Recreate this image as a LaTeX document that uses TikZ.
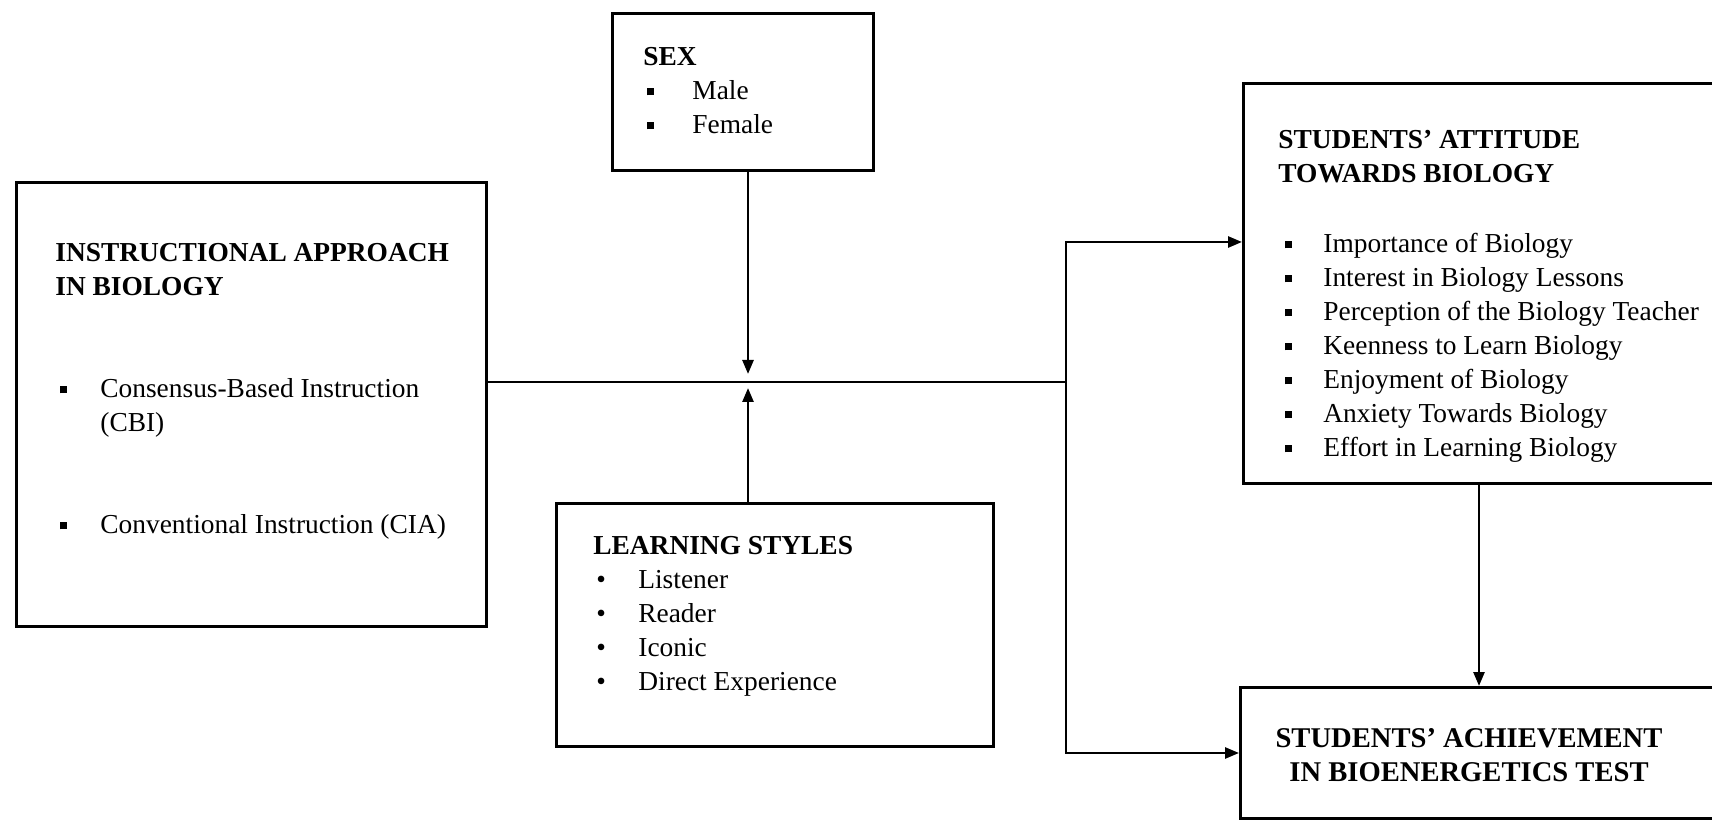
\documentclass[tikz,border=0pt]{standalone}
\usepackage{fontspec}
\setmainfont{Liberation Serif}
\usetikzlibrary{arrows.meta,positioning}
\newcommand{\sqbullet}{\rule[0.3ex]{3.2pt}{3.6pt}}

\tikzset{
  box/.style={draw, line width=1.4pt, anchor=north west, inner sep=0pt},
  txt/.style={anchor=north west, inner sep=0pt, font=\fontsize{13.7}{17}\selectfont},
  link/.style={line width=1.3pt},
  arr/.style={link, -{Triangle[length=7pt,width=5.5pt]}}
}

\begin{document}
\begin{tikzpicture}[x=0.5pt,y=-0.5pt]
\useasboundingbox (0,0) rectangle (1712,822);

% boxes
\node[box, minimum width=235pt, minimum height=222pt] (inst) at (15,181) {};
\node[box, minimum width=130.5pt, minimum height=78.5pt] (sex) at (611,12) {};
\node[box, minimum width=218.5pt, minimum height=121.5pt] (learn) at (555,502) {};
\node[box, minimum width=260pt, minimum height=200pt] (att) at (1242,82) {};
\node[box, minimum width=262pt, minimum height=65.5pt] (ach) at (1239,686) {};

% texts
\node[txt] (insttxt) at (55,237) {\begin{tabular}{@{\hspace{2.5pt}}p{20pt}@{}l@{}}
  \multicolumn{2}{@{}l@{}}{\bfseries INSTRUCTIONAL APPROACH}\\
  \multicolumn{2}{@{}l@{}}{\bfseries IN BIOLOGY}\\[34pt]
  \sqbullet & Consensus-Based Instruction\\
            & (CBI)\\[34pt]
  \sqbullet & Conventional Instruction (CIA)
\end{tabular}};
\node[txt] (sextxt) at (643,41) {\begin{tabular}{@{\hspace{2pt}}p{22.5pt}@{}l@{}}
  \multicolumn{2}{@{}l@{}}{\bfseries SEX}\\
  \sqbullet & Male\\
  \sqbullet & Female
\end{tabular}};
\node[txt] (learntxt) at (593,530) {\begin{tabular}{@{\hspace{1.5pt}}p{21pt}@{}l@{}}
  \multicolumn{2}{@{}l@{}}{\bfseries LEARNING STYLES}\\
  \textbullet & Listener\\
  \textbullet & Reader\\
  \textbullet & Iconic\\
  \textbullet & Direct Experience
\end{tabular}};
\node[txt] (atttxt) at (1278,124) {\begin{tabular}{@{\hspace{3.5pt}}p{19pt}@{}l@{}}
  \multicolumn{2}{@{}l@{}}{\bfseries STUDENTS’ ATTITUDE}\\
  \multicolumn{2}{@{}l@{}}{\bfseries TOWARDS BIOLOGY}\\[18pt]
  \sqbullet & Importance of Biology\\
  \sqbullet & Interest in Biology Lessons\\
  \sqbullet & Perception of the Biology Teacher\\
  \sqbullet & Keenness to Learn Biology\\
  \sqbullet & Enjoyment of Biology\\
  \sqbullet & Anxiety Towards Biology\\
  \sqbullet & Effort in Learning Biology
\end{tabular}};
\node[txt, anchor=north, font=\fontsize{14.3}{17}\selectfont] (achtxt) at (1469,723) {\begin{tabular}{@{}c@{}}
  \bfseries STUDENTS’ ACHIEVEMENT\\
  \bfseries IN BIOENERGETICS TEST
\end{tabular}};

% connectors
\coordinate (mid) at (748,382);
\coordinate (hub) at (1066,382);
\coordinate (hubtop) at (1066,242);
\coordinate (hubbot) at (1066,753);
\coordinate (drop) at (1479,482);
\draw[link] (inst.east |- hub) -- (hub);
\draw[arr, shorten >=4pt] (sex.south -| mid) -- (mid);
\draw[arr, shorten >=3pt] (learn.north -| mid) -- (mid);
\draw[arr] (hub) -- (hubtop) -- (att.west |- hubtop);
\draw[arr] (hub) -- (hubbot) -- (ach.west |- hubbot);
\draw[arr] (drop) -- (drop |- ach.north);
\end{tikzpicture}
\end{document}
